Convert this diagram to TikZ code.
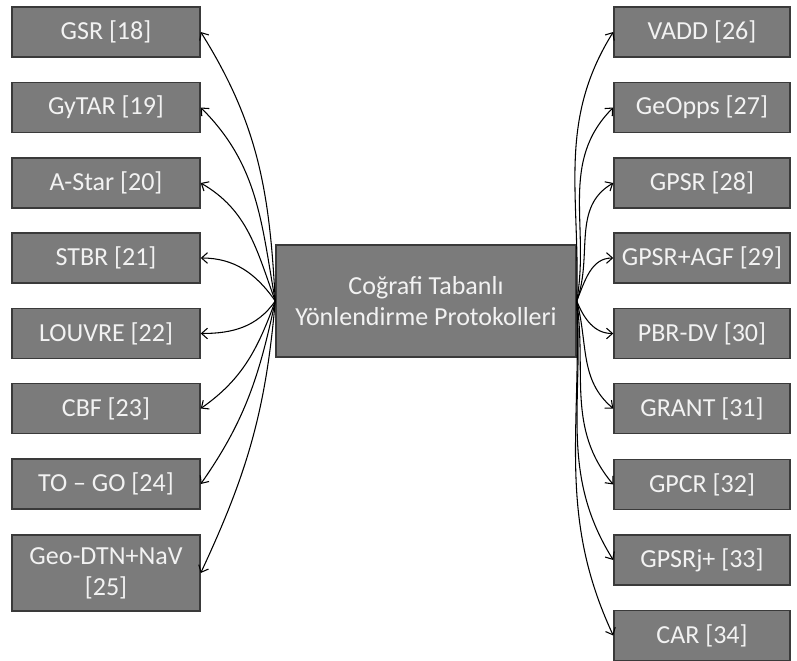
\documentclass[tikz,border=0pt]{standalone}
\usepackage{fontspec}
\setmainfont{Carlito}
\usetikzlibrary{arrows.meta}
\definecolor{boxfill}{HTML}{7B7B7B}
\definecolor{boxline}{HTML}{3A3A3A}
\definecolor{boxtext}{HTML}{F2F2F2}
\tikzset{
  box/.style={draw=boxline, line width=1.1pt, fill=boxfill, text=boxtext,
    inner sep=0pt, align=center, font=\fontsize{19.5}{23.5}\selectfont},
  lbox/.style={box, minimum width=141pt, minimum height=37.5pt},
  rbox/.style={box, minimum width=132pt, minimum height=37.5pt},
  link/.style={draw=black, line width=0.8pt, -{Straight Barb[length=4.5pt,width=8pt]}}
}
\begin{document}
\begin{tikzpicture}[x=0.75pt,y=-0.75pt]
\useasboundingbox (0,0) rectangle (797,661);

% central box
\node[box, minimum width=225pt, minimum height=84pt] (c) at (426,301)
  {Coğrafi Tabanlı\\Yönlendirme Protokolleri};

% left column
\node[lbox] (l1) at (106,32)    {GSR [18]};
\node[lbox] (l2) at (106,107.5) {GyTAR [19]};
\node[lbox] (l3) at (106,183)   {A-Star [20]};
\node[lbox] (l4) at (106,258)   {STBR [21]};
\node[lbox] (l5) at (106,333.5) {LOUVRE [22]};
\node[lbox] (l6) at (106,408.5) {CBF [23]};
\node[lbox] (l7) at (106,484)   {TO – GO [24]};
\node[lbox, minimum height=57pt] (l8) at (106,573) {Geo-DTN+NaV\\{[25]}};

% right column
\node[rbox] (r1) at (702,32)    {VADD [26]};
\node[rbox] (r2) at (702,107.5) {GeOpps [27]};
\node[rbox] (r3) at (702,183)   {GPSR [28]};
\node[rbox] (r4) at (702,258)   {GPSR+AGF [29]};
\node[rbox] (r5) at (702,333.5) {PBR-DV [30]};
\node[rbox] (r6) at (702,408.5) {GRANT [31]};
\node[rbox] (r7) at (702,484.5) {GPCR [32]};
\node[rbox] (r8) at (702,560)   {GPSRj+ [33]};
\node[rbox] (r9) at (702,635.5) {CAR [34]};

% curved connectors to the left column
\draw[link] (c.west) to[out=93,  in=-58] (l1.east);
\draw[link] (c.west) to[out=100, in=-45] (l2.east);
\draw[link] (c.west) to[out=110, in=-30] (l3.east);
\draw[link] (c.west) to[out=125, in=0]   (l4.east);
\draw[link] (c.west) to[out=235, in=0]   (l5.east);
\draw[link] (c.west) to[out=250, in=35]  (l6.east);
\draw[link] (c.west) to[out=258, in=55]  (l7.east);
\draw[link] (c.west) to[out=265, in=65]  (l8.east);

% curved connectors to the right column
\draw[link] (c.east) to[out=88,  in=238] (r1.west);
\draw[link] (c.east) to[out=80,  in=225] (r2.west);
\draw[link] (c.east) to[out=70,  in=210] (r3.west);
\draw[link] (c.east) to[out=68,  in=180] (r4.west);
\draw[link] (c.east) to[out=-68, in=180] (r5.west);
\draw[link] (c.east) to[out=-75, in=140] (r6.west);
\draw[link] (c.east) to[out=-82, in=130] (r7.west);
\draw[link] (c.east) to[out=-86, in=122] (r8.west);
\draw[link] (c.east) to[out=-88, in=115] (r9.west);
\end{tikzpicture}
\end{document}
